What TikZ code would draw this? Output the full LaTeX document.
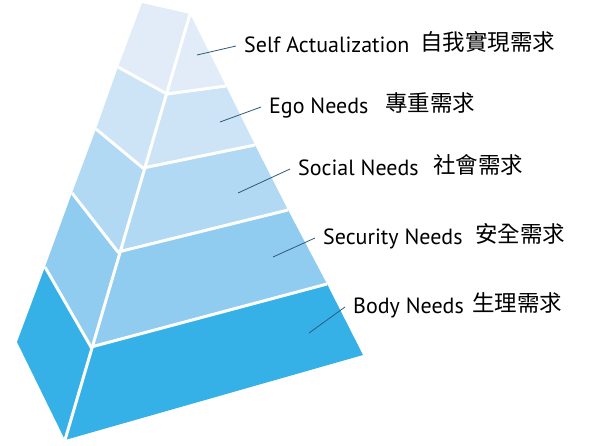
\documentclass[tikz,border=0pt]{standalone}
\usepackage{fontspec}
\usepackage{tikz}
\setmainfont{PT Sans}
\newfontfamily\cjk{Noto Sans CJK TC}
\definecolor{layA}{HTML}{E1ECF8}
\definecolor{layB}{HTML}{CCE4F6}
\definecolor{layC}{HTML}{B2D9F3}
\definecolor{layD}{HTML}{8FCCEF}
\definecolor{layE}{HTML}{36B1E7}
\definecolor{ptrcol}{HTML}{2F5A78}

\begin{document}
\begin{tikzpicture}[x=1pt,y=-1pt,
  en/.style={anchor=base west,inner sep=0pt,font=\fontsize{22}{26}\selectfont},
  zh/.style={anchor=base west,inner sep=0pt,font=\fontsize{22.5}{26}\selectfont\cjk},
  ptr/.style={draw=ptrcol,line width=0.8pt},
  sep/.style={draw=white,line width=3pt}]
\useasboundingbox (0,0) rectangle (600,445);
\coordinate (l0) at (142,3);  \coordinate (i0) at (190,14);  \coordinate (r0) at (190,14);
\coordinate (l1) at (118,67); \coordinate (i1) at (167,94);  \coordinate (r1) at (226,86);
\coordinate (l2) at (96,129); \coordinate (i2) at (143,168); \coordinate (r2) at (255,145);
\coordinate (l3) at (72,193); \coordinate (i3) at (118,252); \coordinate (r3) at (288,210);
\coordinate (l4) at (45,267); \coordinate (i4) at (91,347);  \coordinate (r4) at (327,284);
\coordinate (l5) at (17,342); \coordinate (i5) at (65,440);  \coordinate (r5) at (363,355);
\foreach \k/\n/\col in {0/1/layA,1/2/layB,2/3/layC,3/4/layD,4/5/layE}
  \fill[\col] (l\k) -- (i\k) -- (r\k) -- (r\n) -- (i\n) -- (l\n) -- cycle;
\foreach \k in {1,...,4}
  \draw[sep] (l\k) -- (i\k) -- (r\k);
\draw[sep] (i0) -- (i5);

\node[en] (sa) at (244,52) {Self Actualization};
\node[zh] (sazh) at (420,50) {自我實現需求};
\node[en] (eg) at (269,113) {Ego Needs};
\node[zh] (egzh) at (385,111) {專重需求};
\node[en] (so) at (298,175) {Social Needs};
\node[zh] (sozh) at (433,173) {社會需求};
\node[en] (se) at (323,244) {Security Needs};
\node[zh] (sezh) at (475,242) {安全需求};
\node[en] (bo) at (353,313) {Body Needs};
\node[zh] (bozh) at (472,311) {生理需求};

\coordinate (f1) at (197,55);
\coordinate (f2) at (220,122);
\coordinate (f3) at (238,193);
\coordinate (f4) at (273,257);
\coordinate (f5) at (309,333);
\foreach \f/\t in {f1/sa,f2/eg,f3/so,f4/se,f5/bo}
  \draw[ptr] (\f) -- ([xshift=-8pt,yshift=6pt]\t.base west);
\end{tikzpicture}
\end{document}
